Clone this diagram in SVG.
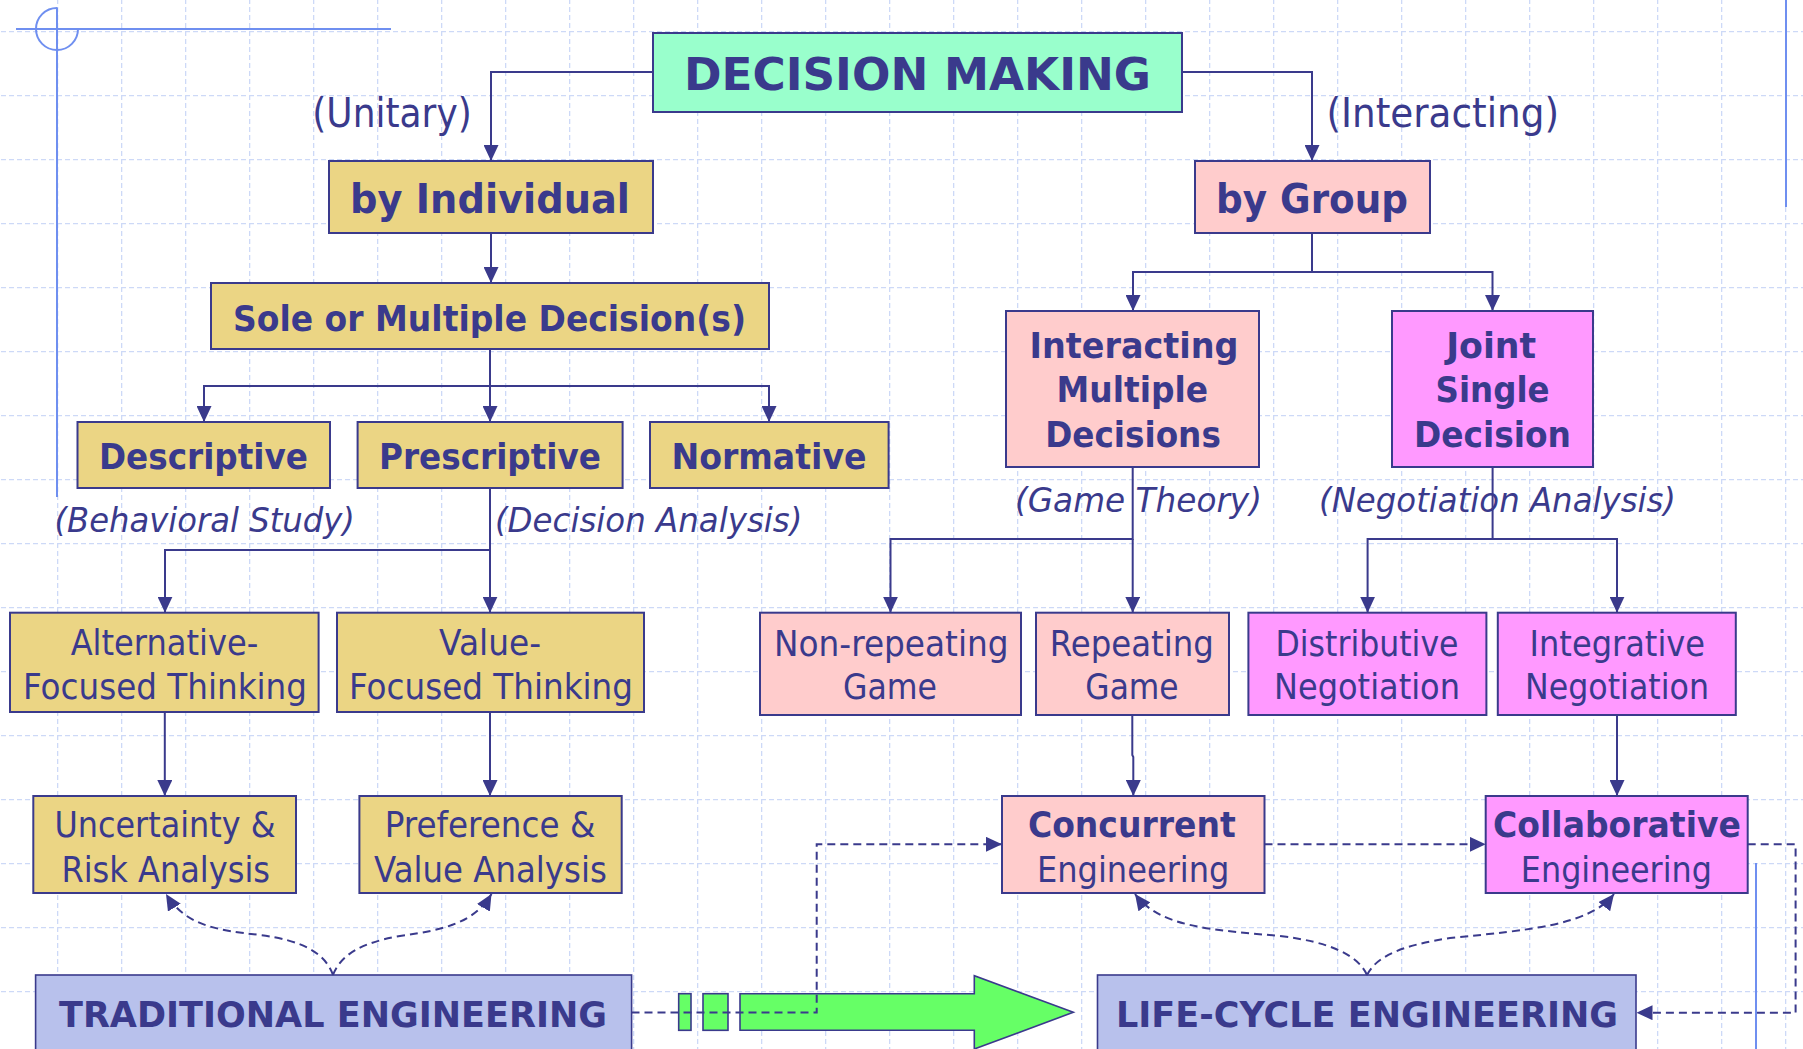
<svg xmlns="http://www.w3.org/2000/svg" width="1803" height="1049" viewBox="0 0 1803 1049">
  <style>
    .box { stroke: #3a3a8c; stroke-width: 2; }
    .khaki { fill: #ebd584; }
    .mint { fill: #99ffcc; }
    .pink { fill: #ffcccc; }
    .mag { fill: #ff99ff; }
    .lav { fill: #b8c1ec; stroke-width: 1.6; }
    .t { font-family: "DejaVu Sans", "Liberation Sans", sans-serif; fill: #3a3a8c; text-anchor: middle; }
    .b { font-weight: bold; }
    .i { font-style: italic; }
    .conn { fill: none; stroke: #3a3a8c; stroke-width: 2; }
    .dash { stroke-dasharray: 8 5; }
    .deco { fill: none; stroke: #6f8ff0; stroke-width: 2; }
  </style>
  <defs>
    <pattern id="grid" x="57" y="31" width="64" height="64" patternUnits="userSpaceOnUse">
      <path d="M0,0.5 H64 M0.5,0 V64" fill="none" stroke="#cdd9f7" stroke-width="1.6" stroke-dasharray="5 3"/>
    </pattern>
    <marker id="ah" viewBox="0 0 16 15" refX="16" refY="7.5" markerWidth="16" markerHeight="15" markerUnits="userSpaceOnUse" orient="auto">
      <path d="M0,0 L16,7.5 L0,15 Z" fill="#3a3a8c"/>
    </marker>
  </defs>

  <!-- background and grid -->
  <rect width="1803" height="1049" fill="#ffffff"/>
  <rect width="1803" height="1049" fill="url(#grid)"/>

  <!-- template decoration lines -->
  <g id="decoration">
    <path class="deco" d="M16,29 H391"/>
    <path class="deco" d="M57,7.5 V497"/>
    <path class="deco" d="M57,8 A21,21 0 1 0 78,29"/>
    <path class="deco" d="M1786,0 V207"/>
    <path class="deco" d="M1756,863 V1049"/>
  </g>

  <!-- nodes -->
  <g id="decision-making">
    <rect class="box mint" x="653" y="33" width="529" height="79"/>
    <text class="t b" x="917.5" y="90" font-size="45" textLength="467" lengthAdjust="spacingAndGlyphs">DECISION MAKING</text>
  </g>
  <g id="by-individual">
    <rect class="box khaki" x="329" y="161" width="324" height="72"/>
    <text class="t b" x="490" y="213" font-size="41" textLength="280" lengthAdjust="spacingAndGlyphs">by Individual</text>
  </g>
  <g id="by-group">
    <rect class="box pink" x="1195" y="161" width="235" height="72"/>
    <text class="t b" x="1312" y="213" font-size="41" textLength="192" lengthAdjust="spacingAndGlyphs">by Group</text>
  </g>
  <g id="sole-multiple">
    <rect class="box khaki" x="211" y="283" width="558" height="66"/>
    <text class="t b" x="489.5" y="331" font-size="36" textLength="513" lengthAdjust="spacingAndGlyphs">Sole or Multiple Decision(s)</text>
  </g>
  <g id="descriptive">
    <rect class="box khaki" x="77.5" y="422" width="252.5" height="66"/>
    <text class="t b" x="203.5" y="469" font-size="36" textLength="209" lengthAdjust="spacingAndGlyphs">Descriptive</text>
  </g>
  <g id="prescriptive">
    <rect class="box khaki" x="357.6" y="422" width="265" height="66"/>
    <text class="t b" x="490" y="469" font-size="36" textLength="222" lengthAdjust="spacingAndGlyphs">Prescriptive</text>
  </g>
  <g id="normative">
    <rect class="box khaki" x="650" y="422" width="238.6" height="66"/>
    <text class="t b" x="769" y="469" font-size="36" textLength="195" lengthAdjust="spacingAndGlyphs">Normative</text>
  </g>
  <g id="interacting-multiple">
    <rect class="box pink" x="1006" y="311" width="253" height="156"/>
    <text class="t b" x="1134" y="358" font-size="35" textLength="209" lengthAdjust="spacingAndGlyphs">Interacting</text>
    <text class="t b" x="1132.3" y="402" font-size="35" textLength="151.5" lengthAdjust="spacingAndGlyphs">Multiple</text>
    <text class="t b" x="1133" y="447" font-size="35" textLength="175.7" lengthAdjust="spacingAndGlyphs">Decisions</text>
  </g>
  <g id="joint-single">
    <rect class="box mag" x="1392" y="311" width="201" height="156"/>
    <text class="t b" x="1491.2" y="358" font-size="35" textLength="90" lengthAdjust="spacingAndGlyphs">Joint</text>
    <text class="t b" x="1492.6" y="402" font-size="35" textLength="114" lengthAdjust="spacingAndGlyphs">Single</text>
    <text class="t b" x="1492.4" y="447" font-size="35" textLength="157" lengthAdjust="spacingAndGlyphs">Decision</text>
  </g>
  <g id="alternative-focused">
    <rect class="box khaki" x="10" y="612.7" width="308.6" height="99.3"/>
    <text class="t" x="164.5" y="655" font-size="36" textLength="187.7" lengthAdjust="spacingAndGlyphs">Alternative-</text>
    <text class="t" x="165" y="699" font-size="36" textLength="284" lengthAdjust="spacingAndGlyphs">Focused Thinking</text>
  </g>
  <g id="value-focused">
    <rect class="box khaki" x="337" y="612.7" width="307" height="99.3"/>
    <text class="t" x="490" y="655" font-size="36" textLength="102" lengthAdjust="spacingAndGlyphs">Value-</text>
    <text class="t" x="491" y="699" font-size="36" textLength="284" lengthAdjust="spacingAndGlyphs">Focused Thinking</text>
  </g>
  <g id="non-repeating">
    <rect class="box pink" x="760" y="612.7" width="261" height="102.3"/>
    <text class="t" x="891.3" y="656" font-size="36" textLength="234.5" lengthAdjust="spacingAndGlyphs">Non-repeating</text>
    <text class="t" x="890" y="699" font-size="36" textLength="94" lengthAdjust="spacingAndGlyphs">Game</text>
  </g>
  <g id="repeating">
    <rect class="box pink" x="1036" y="612.7" width="193" height="102.3"/>
    <text class="t" x="1131.8" y="656" font-size="36" textLength="164" lengthAdjust="spacingAndGlyphs">Repeating</text>
    <text class="t" x="1132" y="699" font-size="36" textLength="93.3" lengthAdjust="spacingAndGlyphs">Game</text>
  </g>
  <g id="distributive">
    <rect class="box mag" x="1248.4" y="612.7" width="238" height="102.3"/>
    <text class="t" x="1367" y="656" font-size="36" textLength="183" lengthAdjust="spacingAndGlyphs">Distributive</text>
    <text class="t" x="1367" y="699" font-size="36" textLength="186" lengthAdjust="spacingAndGlyphs">Negotiation</text>
  </g>
  <g id="integrative">
    <rect class="box mag" x="1497.8" y="612.7" width="238" height="102.3"/>
    <text class="t" x="1617.3" y="656" font-size="36" textLength="175.5" lengthAdjust="spacingAndGlyphs">Integrative</text>
    <text class="t" x="1617" y="699" font-size="36" textLength="184" lengthAdjust="spacingAndGlyphs">Negotiation</text>
  </g>
  <g id="uncertainty-risk">
    <rect class="box khaki" x="33.3" y="796" width="262.7" height="97"/>
    <text class="t" x="165" y="836.7" font-size="36" textLength="221" lengthAdjust="spacingAndGlyphs">Uncertainty &amp;</text>
    <text class="t" x="165.7" y="881.7" font-size="36" textLength="208.6" lengthAdjust="spacingAndGlyphs">Risk Analysis</text>
  </g>
  <g id="preference-value">
    <rect class="box khaki" x="359.4" y="796" width="262.3" height="97"/>
    <text class="t" x="490" y="836.7" font-size="36" textLength="210.7" lengthAdjust="spacingAndGlyphs">Preference &amp;</text>
    <text class="t" x="490.4" y="881.7" font-size="36" textLength="232.8" lengthAdjust="spacingAndGlyphs">Value Analysis</text>
  </g>
  <g id="concurrent">
    <rect class="box pink" x="1002" y="796" width="262.5" height="97"/>
    <text class="t b" x="1131.8" y="836.7" font-size="36" textLength="207.8" lengthAdjust="spacingAndGlyphs">Concurrent</text>
    <text class="t" x="1133.2" y="881.7" font-size="36" textLength="192.4" lengthAdjust="spacingAndGlyphs">Engineering</text>
  </g>
  <g id="collaborative">
    <rect class="box mag" x="1485.7" y="796" width="262" height="97"/>
    <text class="t b" x="1617" y="836.7" font-size="36" textLength="247.8" lengthAdjust="spacingAndGlyphs">Collaborative</text>
    <text class="t" x="1616.4" y="881.7" font-size="36" textLength="191.2" lengthAdjust="spacingAndGlyphs">Engineering</text>
  </g>
  <g id="traditional-engineering">
    <rect class="box lav" x="35.6" y="975" width="596" height="90"/>
    <text class="t b" x="333" y="1026.7" font-size="35" textLength="548" lengthAdjust="spacingAndGlyphs">TRADITIONAL ENGINEERING</text>
  </g>
  <g id="life-cycle-engineering">
    <rect class="box lav" x="1097.5" y="975" width="538.5" height="90"/>
    <text class="t b" x="1367" y="1026.7" font-size="35" textLength="502" lengthAdjust="spacingAndGlyphs">LIFE-CYCLE ENGINEERING</text>
  </g>

  <!-- transition block arrow -->
  <g id="transition-arrow" fill="#66ff66" stroke="#3a3a8c" stroke-width="1.6">
    <rect x="678.7" y="993.7" width="12.3" height="36.6"/>
    <rect x="703" y="993.7" width="25" height="36.6"/>
    <path d="M740,993.7 H974.3 V975.7 L1073.3,1012.3 L974.3,1049 V1030.3 H740 Z"/>
  </g>

  <!-- branch labels -->
  <g id="labels">
    <text class="t" x="392" y="127" font-size="40" textLength="159.5" lengthAdjust="spacingAndGlyphs">(Unitary)</text>
    <text class="t" x="1442.7" y="127" font-size="40" textLength="232.5" lengthAdjust="spacingAndGlyphs">(Interacting)</text>
    <text class="t i" x="204.7" y="532" font-size="34" textLength="300.5" lengthAdjust="spacingAndGlyphs">(Behavioral Study)</text>
    <text class="t i" x="648.7" y="532" font-size="34" textLength="307.5" lengthAdjust="spacingAndGlyphs">(Decision Analysis)</text>
    <text class="t i" x="1138.5" y="512" font-size="34" textLength="247" lengthAdjust="spacingAndGlyphs">(Game Theory)</text>
    <text class="t i" x="1497.5" y="512" font-size="34" textLength="357" lengthAdjust="spacingAndGlyphs">(Negotiation Analysis)</text>
  </g>

  <!-- connectors -->
  <g id="connectors">
    <path class="conn" d="M653,72 H491 V161" marker-end="url(#ah)"/>
    <path class="conn" d="M1182,72 H1312 V161" marker-end="url(#ah)"/>
    <path class="conn" d="M491,233 V283" marker-end="url(#ah)"/>
    <path class="conn" d="M1312,233 V272 H1133 V311" marker-end="url(#ah)"/>
    <path class="conn" d="M1312,272 H1492.5 V311" marker-end="url(#ah)"/>
    <path class="conn" d="M490,349 V386 H204 V422" marker-end="url(#ah)"/>
    <path class="conn" d="M490,386 V422" marker-end="url(#ah)"/>
    <path class="conn" d="M490,386 H769 V422" marker-end="url(#ah)"/>
    <path class="conn" d="M490,488 V550 H165 V612.7" marker-end="url(#ah)"/>
    <path class="conn" d="M490,550 V612.7" marker-end="url(#ah)"/>
    <path class="conn" d="M1132.7,467 V539 H890.5 V612.7" marker-end="url(#ah)"/>
    <path class="conn" d="M1132.7,539 V612.7" marker-end="url(#ah)"/>
    <path class="conn" d="M1492.6,467 V539 H1367.6 V612.7" marker-end="url(#ah)"/>
    <path class="conn" d="M1492.6,539 H1617 V612.7" marker-end="url(#ah)"/>
    <path class="conn" d="M164.8,712 V796" marker-end="url(#ah)"/>
    <path class="conn" d="M490,712 V796" marker-end="url(#ah)"/>
    <path class="conn" d="M1132.3,715 V755 L1133.3,757 V796" marker-end="url(#ah)"/>
    <path class="conn" d="M1617,715 V796" marker-end="url(#ah)"/>

    <path class="conn dash" d="M333,975 C325,952 300,940 260,935 C215,930 185,925 166,894" marker-end="url(#ah)"/>
    <path class="conn dash" d="M333,975 C341,955 360,943 400,936 C445,930 475,922 491.5,894" marker-end="url(#ah)"/>
    <path class="conn dash" d="M1367,975 C1358,955 1330,942 1280,936 C1215,930 1160,928 1135,894" marker-end="url(#ah)"/>
    <path class="conn dash" d="M1367,975 C1377,955 1405,945 1450,938 C1530,930 1590,925 1614,894" marker-end="url(#ah)"/>

    <path class="conn dash" d="M631.5,1012.5 H816.7 V844.3 H1002" marker-end="url(#ah)"/>
    <path class="conn dash" d="M1264.5,844.3 H1485.7" marker-end="url(#ah)"/>
    <path class="conn dash" d="M1747.7,844.3 H1795.6 V1012.7 H1636.5" marker-end="url(#ah)"/>
  </g>
</svg>
